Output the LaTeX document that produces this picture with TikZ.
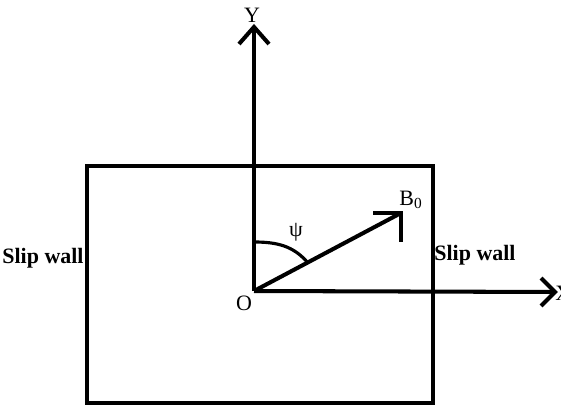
\documentclass[tikz,border=0pt]{standalone}
\usepackage{fontspec}
\setmainfont{Liberation Serif}
\usetikzlibrary{positioning, calc}
\tikzset{
  wall/.style={draw=black, line width=2.2pt},
  axis/.style={draw=black, line width=2.3pt},
  barb/.style={draw=black, line width=2.3pt, line cap=butt},
  anglearc/.style={draw=black, line width=1.8pt},
  axislabel/.style={font=\fontsize{12.5}{14}\selectfont, inner sep=0pt},
  walllabel/.style={font=\fontsize{12.5}{14}\selectfont\bfseries, inner sep=0pt},
}

\begin{document}
\begin{tikzpicture}[x=0.02cm, y=0.02cm]
  \useasboundingbox (0,0) rectangle (561,406);
  % Domain
  \draw[wall] (87,3) rectangle (433,240);
  % Points
  \coordinate (O) at (254,115);
  \coordinate (ytip) at (254,379);
  \coordinate (xtip) at (555,114);
  \coordinate (btip) at (401,193);
  \coordinate (psistart) at (254,164);
  \coordinate (psiend) at (308,143);

  % Axes
  \draw[axis] (O) -- (ytip);
  \draw[barb] ($(ytip)+(-15,-17)$) -- (ytip) -- ($(ytip)+(15,-17)$);
  \draw[axis] (O) -- (xtip);
  \draw[barb] ($(xtip)+(-14,14)$) -- (xtip) -- ($(xtip)+(-14,-14)$);
  % Field vector
  \draw[axis] (O) -- (btip);
  \draw[barb] ($(btip)+(-28,0)$) -- (btip) -- ($(btip)+(0,-29)$);
  % Angle
  \draw[anglearc] (psistart) to[out=0, in=130] (psiend);

  % Labels
  \node[axislabel] (ylab) at (252,391) {Y};
  \node[axislabel, anchor=west] (xlab) at (555,113) {X};
  \node[axislabel] (olab) at (244,103) {O};
  \node[axislabel] (blab) at (411,206) {B\textsubscript{0}};
  \node[axislabel] (psilab) at (296,174) {ψ};
  \node[walllabel] (leftwall) at (43,148) {Slip wall};
  \node[walllabel] (rightwall) at (475,151) {Slip wall};
\end{tikzpicture}
\end{document}
